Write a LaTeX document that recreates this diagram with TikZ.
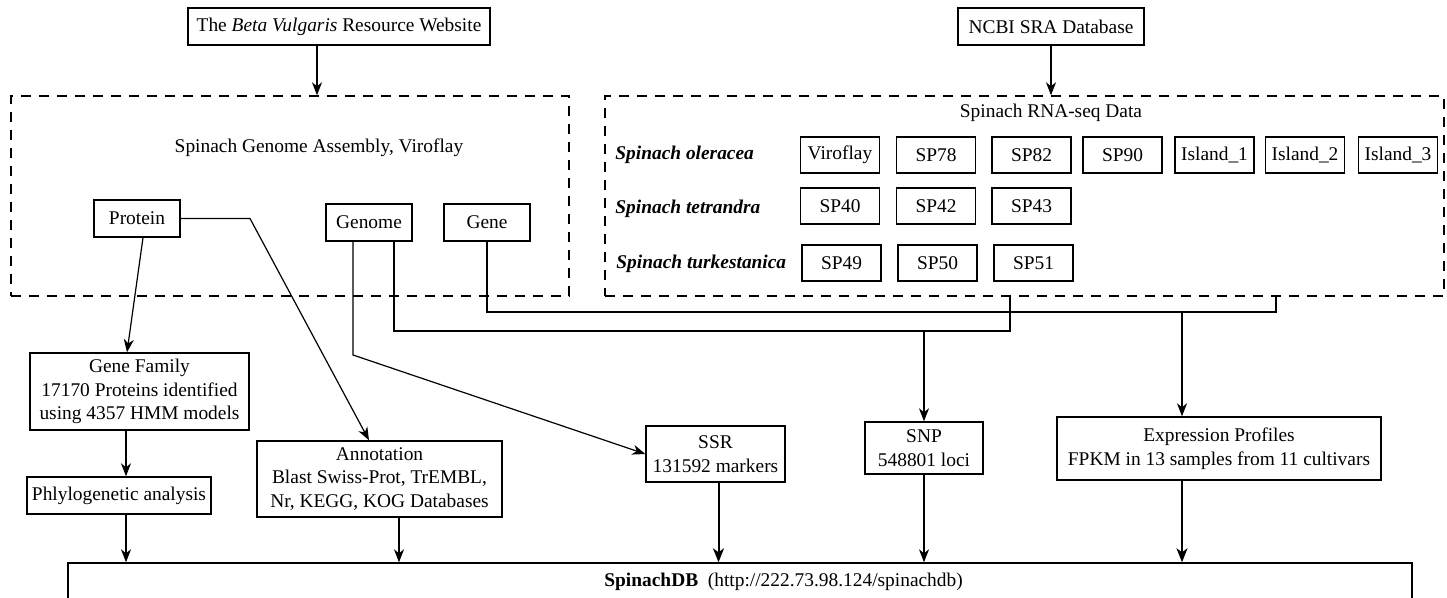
\documentclass[tikz,border=0pt]{standalone}
\usepackage{fontspec}
\setmainfont{Liberation Serif}
\usetikzlibrary{arrows.meta,calc}
\begin{document}
\begin{tikzpicture}[x=0.5pt,y=-0.5pt,
  font=\fontsize{9.7}{11.8}\selectfont,
  box/.style={draw,line width=0.7pt,inner sep=0pt,align=center},
  dashbox/.style={draw,line width=0.7pt,dash pattern=on 5pt off 4pt,inner sep=0pt},
  smp/.style={box,minimum width=39.5pt,minimum height=18pt},
  arr/.style={line width=0.6pt,-{Stealth[length=6.5pt,width=5pt,inset=2pt]}},
  tharr/.style={line width=1pt,-{Stealth[length=7pt,width=5.5pt,inset=2pt]}},
  ln/.style={line width=0.6pt},
  thln/.style={line width=0.9pt},
  lbl/.style={inner sep=0pt,anchor=west,font=\fontsize{9.7}{11.8}\selectfont\bfseries\itshape}]
\useasboundingbox (0,0) rectangle (1447,598);

% top sources
\node[box,minimum width=151pt,minimum height=18.5pt] (beta) at (339,26.5) {The \textit{Beta Vulgaris} Resource Website};
\node[box,minimum width=93pt,minimum height=18.5pt] (ncbi) at (1051,26.5) {NCBI SRA Database};

% dashed containers
\node[dashbox,minimum width=279pt,minimum height=100pt] (lds) at (290,196) {};
\node[dashbox,minimum width=419.5pt,minimum height=100pt] (rds) at (1024.5,196) {};
\node[inner sep=0pt] (asm) at (319,148) {Spinach Genome Assembly, Viroflay};
\node[inner sep=0pt] (rna) at (1051,113) {Spinach RNA-seq Data};

% genome assembly items
\node[box,minimum width=43pt,minimum height=18.5pt] (prot) at (137,218.5) {Protein};
\node[box,minimum width=43pt,minimum height=18.5pt] (genome) at (369,222.5) {Genome};
\node[box,minimum width=43pt,minimum height=18.5pt] (gene) at (487,222.5) {Gene};

% RNA-seq samples
\node[lbl] (ole) at (615,155) {Spinach oleracea};
\node[lbl] (tet) at (615,209) {Spinach tetrandra};
\node[lbl] (tur) at (616,264) {Spinach turkestanica};
\node[smp] (vir) at (840,155) {Viroflay};
\node[smp] (sp78) at (936,155) {SP78};
\node[smp] (sp82) at (1031.5,155) {SP82};
\node[smp] (sp90) at (1122.5,155) {SP90};
\node[smp] (is1) at (1214.5,155) {Island\_1};
\node[smp] (is2) at (1305,155) {Island\_2};
\node[smp] (is3) at (1398,155) {Island\_3};
\node[smp] (sp40) at (840,206) {SP40};
\node[smp] (sp42) at (936,206) {SP42};
\node[smp] (sp43) at (1031.5,206) {SP43};
\node[smp] (sp49) at (841.5,263) {SP49};
\node[smp] (sp50) at (937.5,263) {SP50};
\node[smp] (sp51) at (1033.5,263) {SP51};

% products
\node[box,minimum width=109.5pt,minimum height=38.5pt] (gf) at (139.5,391.5) {Gene Family\\17170 Proteins identified\\using 4357 HMM models};
\node[box,minimum width=92pt,minimum height=18.5pt] (phylo) at (119,495.5) {Phlylogenetic analysis};
\node[box,minimum width=122.5pt,minimum height=38pt] (annot) at (379.5,479) {Annotation\\Blast Swiss-Prot, TrEMBL,\\Nr, KEGG, KOG Databases};
\node[box,minimum width=69.5pt,minimum height=28pt] (ssr) at (715.5,454) {SSR\\131592 markers};
\node[box,minimum width=59pt,minimum height=26pt] (snp) at (924,448) {SNP\\548801 loci};
\node[box,minimum width=162pt,minimum height=31.5pt] (expr) at (1219,448.5) {Expression Profiles\\FPKM in 13 samples from 11 cultivars};
\node[box,minimum width=672pt,minimum height=38.5pt] (db) at (740,601.5) {};
\node[inner sep=0pt,anchor=west] (dbt) at (604,582) {\textbf{SpinachDB}\ \ (http://222.73.98.124/spinachdb)};

% connectors
\coordinate (b1) at ($(beta.south)+(-22,0)$);
\draw[arr] (b1) -- (b1 |- lds.north);
\draw[arr] (ncbi.south) -- (ncbi.south |- rds.north);

\coordinate (p1) at (250,218.5);
\draw[arr] (prot.east) -- (p1) -- ($(annot.north)+(-10.5,0)$);
\draw[arr] ($(prot.south)+(6,0)$) -- ($(gf.north)+(-12.5,0)$);

\coordinate (g1) at ($(gf.south)+(-13.5,0)$);
\draw[arr] (g1) -- (g1 |- phylo.north);
\coordinate (ph1) at ($(phylo.south)+(7,0)$);
\draw[arr] (ph1) -- (ph1 |- db.north);
\coordinate (a1) at ($(annot.south)+(19.5,0)$);
\draw[arr] (a1) -- (a1 |- db.north);

\coordinate (gn1) at ($(genome.south)+(-16,0)$);
\coordinate (gn1b) at (353,355);
\draw[arr] (gn1) -- (gn1b) -- (ssr.west);

\coordinate (gn2) at ($(genome.south)+(25,0)$);
\coordinate (j1) at (394,331);
\coordinate (j2) at (1010,331);
\draw[ln] (gn2) -- (j1) -- (j2) -- (j2 |- rds.south);
\draw[arr] (snp.north |- j1) -- (snp.north);

\coordinate (k1) at (487,312);
\coordinate (k2) at (1276,312);
\draw[thln] (gene.south) -- (k1) -- (k2) -- (k2 |- rds.south);
\coordinate (e1) at ($(expr.north)+(-37,0)$);
\draw[arr] (e1 |- k1) -- (e1);

\coordinate (s1) at ($(ssr.south)+(3,0)$);
\draw[tharr] (s1) -- (s1 |- db.north);
\draw[arr] (snp.south) -- (snp.south |- db.north);
\coordinate (e2) at ($(expr.south)+(-37,0)$);
\draw[tharr] (e2) -- (e2 |- db.north);
\end{tikzpicture}
\end{document}
